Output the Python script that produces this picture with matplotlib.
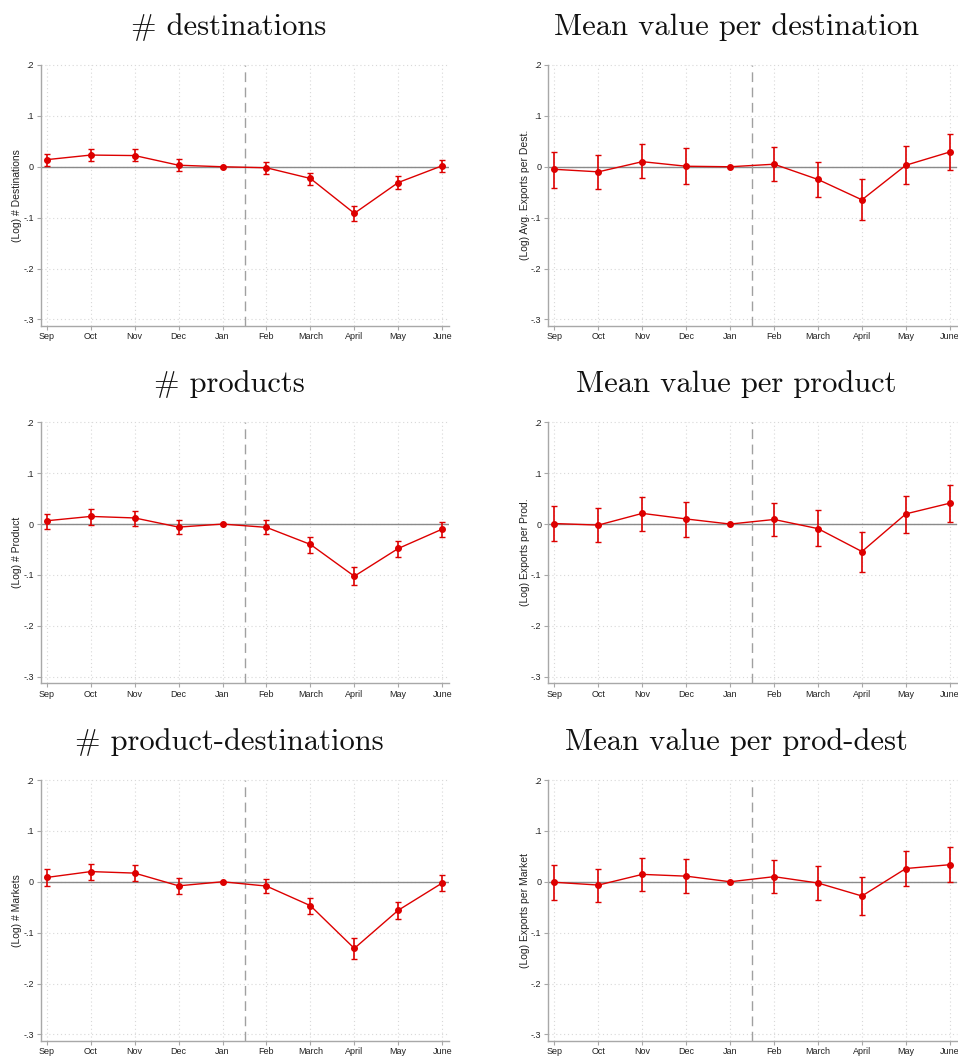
import numpy as np
import matplotlib.pyplot as plt

months = ["Sep", "Oct", "Nov", "Dec", "Jan", "Feb", "March", "April", "May", "June"]

# point estimates and 95% bounds, Jan is the base month
dest_coef = [0.014, 0.023, 0.022, 0.003, 0.0, -0.002, -0.023, -0.0915, -0.031, 0.002]
dest_lo = [0.002, 0.011, 0.011, -0.008, 0.0, -0.014, -0.035, -0.107, -0.044, -0.010]
dest_hi = [0.026, 0.035, 0.034, 0.015, 0.0, 0.0085, -0.012, -0.0765, -0.019, 0.014]

valdest_coef = [-0.005, -0.010, 0.010, 0.001, 0.0, 0.005, -0.025, -0.065, 0.003, 0.029]
valdest_lo = [-0.041, -0.043, -0.023, -0.034, 0.0, -0.028, -0.060, -0.105, -0.034, -0.006]
valdest_hi = [0.029, 0.024, 0.044, 0.036, 0.0, 0.039, 0.010, -0.025, 0.040, 0.065]

prod_coef = [0.0065, 0.015, 0.012, -0.006, 0.0, -0.0065, -0.040, -0.1025, -0.048, -0.010]
prod_lo = [-0.009, -0.001, -0.003, -0.020, 0.0, -0.020, -0.056, -0.120, -0.064, -0.025]
prod_hi = [0.020, 0.029, 0.026, 0.0085, 0.0, 0.007, -0.025, -0.085, -0.033, 0.0045]

valprod_coef = [0.001, -0.002, 0.021, 0.010, 0.0, 0.009, -0.009, -0.054, 0.020, 0.041]
valprod_lo = [-0.033, -0.036, -0.013, -0.025, 0.0, -0.024, -0.044, -0.095, -0.018, 0.005]
valprod_hi = [0.036, 0.032, 0.054, 0.044, 0.0, 0.042, 0.027, -0.015, 0.056, 0.076]

mkt_coef = [0.0085, 0.020, 0.017, -0.008, 0.0, -0.0085, -0.047, -0.131, -0.056, -0.0025]
mkt_lo = [-0.008, 0.004, 0.001, -0.024, 0.0, -0.023, -0.063, -0.151, -0.073, -0.018]
mkt_hi = [0.025, 0.035, 0.033, 0.007, 0.0, 0.006, -0.0315, -0.111, -0.039, 0.013]

valmkt_coef = [-0.001, -0.0065, 0.0145, 0.011, 0.0, 0.010, -0.0025, -0.028, 0.026, 0.0335]
valmkt_lo = [-0.035, -0.039, -0.018, -0.022, 0.0, -0.022, -0.036, -0.065, -0.009, -0.0005]
valmkt_hi = [0.032, 0.025, 0.047, 0.045, 0.0, 0.043, 0.031, 0.009, 0.061, 0.068]

titles = ["# destinations", "Mean value per destination",
          "# products", "Mean value per product",
          "# product-destinations", "Mean value per prod-dest"]
ylabels = ["(Log) # Destinations", "(Log) Avg. Exports per Dest.",
           "(Log) # Product", "(Log) Exports per Prod.",
           "(Log) # Markets", "(Log) Exports per Market"]
series = [(dest_coef, dest_lo, dest_hi), (valdest_coef, valdest_lo, valdest_hi),
          (prod_coef, prod_lo, prod_hi), (valprod_coef, valprod_lo, valprod_hi),
          (mkt_coef, mkt_lo, mkt_hi), (valmkt_coef, valmkt_lo, valmkt_hi)]

yticks = [-0.3, -0.2, -0.1, 0.0, 0.1, 0.2]
ytick_labels = ["-.3", "-.2", "-.1", "0", ".1", ".2"]

plt.rcParams['font.family'] = ['Liberation Sans', 'DejaVu Sans']

W, H = 958, 1057
fig = plt.figure(figsize=(W / 100, H / 100), dpi=100)

red = '#dd0000'
spine_col = '#a8a8a8'
x = np.arange(len(months))

lefts = [40.7, 548.3]
tops = [65, 422.3, 780]
ax_w, ax_h = 408.5, 260.5

for i in range(6):
    row, col = divmod(i, 2)
    left = lefts[col]
    top = tops[row]
    ax = fig.add_axes([left / W, 1 - (top + ax_h) / H, ax_w / W, ax_h / H])
    coef, lo, hi = [np.array(s) for s in series[i]]

    ax.set_xlim(-0.14, 9.16)
    ax.set_ylim(-0.312, 0.2)

    # dotted grid
    for yv in yticks:
        ax.axhline(yv, color='#d8d8d8', lw=0.8, ls=(0, (1, 2.5)), zorder=0, clip_on=False)
    for xv in x:
        ax.axvline(xv, color='#d8d8d8', lw=0.8, ls=(0, (1, 2.5)), zorder=0)

    ax.axhline(0, color='#8a8a8a', lw=1.0, zorder=1)
    ax.axvline(4.5, color='#a0a0a0', lw=1.0, ls=(0, (7, 4)), zorder=1)

    ax.plot(x, coef, color=red, lw=1.0, marker='o', ms=4, zorder=3)
    has_ci = hi > lo
    ax.errorbar(x[has_ci], coef[has_ci],
                yerr=[coef[has_ci] - lo[has_ci], hi[has_ci] - coef[has_ci]],
                fmt='none', ecolor=red, elinewidth=1.2, capsize=2.2, capthick=1.0, zorder=3)

    ax.set_xticks(x)
    ax.set_xticklabels(months)
    ax.set_yticks(yticks)
    ax.set_yticklabels(ytick_labels)
    ax.tick_params(axis='both', labelsize=6.5, length=3, width=0.8, color=spine_col,
                   labelcolor='#222222', pad=2)
    for side in ['top', 'right']:
        ax.spines[side].set_visible(False)
    for side in ['left', 'bottom']:
        ax.spines[side].set_color(spine_col)
        ax.spines[side].set_linewidth(1.0)

    ax.set_ylabel(ylabels[i], fontsize=7.5, color='#222222', va='center')
    ax.yaxis.set_label_coords(-0.058, 0.5)

    tx = [229, 736][col]
    fig.text(tx / W, 1 - (top - 30) / H, titles[i], family='cmr10', fontsize=22,
             ha='center', va='baseline', color='#111111')

fig.savefig('out.png', dpi=100)
